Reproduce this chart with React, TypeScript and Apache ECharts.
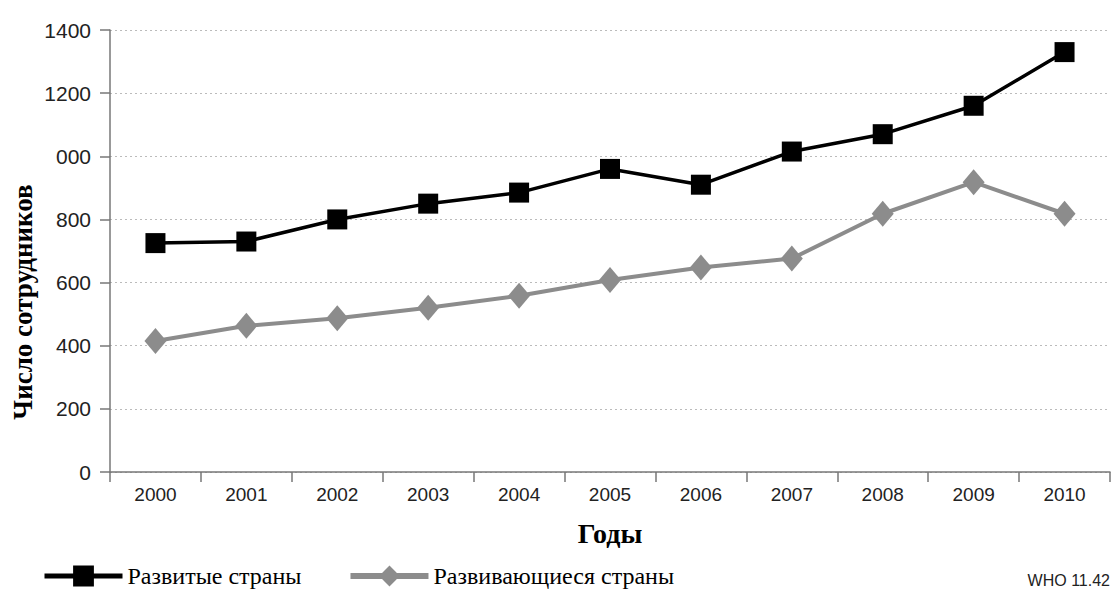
import React, { useEffect, useRef } from "react";
import * as echarts from "echarts";

const years = ["2000", "2001", "2002", "2003", "2004", "2005", "2006", "2007", "2008", "2009", "2010"];
const developed = [725, 730, 800, 850, 885, 960, 910, 1015, 1070, 1160, 1330];
const developing = [415, 463, 487, 520, 558, 608, 648, 676, 818, 918, 818];
const yTicks = [0, 200, 400, 600, 800, 1000, 1200, 1400];
const yTickLabels = ["0", "200", "400", "600", "800", "000", "1200", "1400"];
const seriesNames = ["Развитые страны", "Развивающиеся страны"];

export default function App() {
  const ref = useRef<HTMLDivElement>(null);
  useEffect(() => {
    if (!ref.current) return;
    const chart = echarts.init(ref.current, null, { renderer: "svg" });
    chart.setOption({
      animation: false,
      backgroundColor: "#ffffff",
      grid: { left: 110, right: 1, top: 30, bottom: 118 },
      xAxis: {
        type: "category",
        data: years,
        boundaryGap: true,
        axisLine: { lineStyle: { color: "#777", width: 1.5 } },
        axisTick: { show: true, length: 10, lineStyle: { color: "#777", width: 1.5 } },
        axisLabel: { color: "#222", fontSize: 19, fontFamily: "Liberation Sans, Arial", margin: 13 },
        splitLine: { show: false },
      },
      yAxis: {
        type: "value",
        min: 0,
        max: 1400,
        interval: 200,
        axisLine: { show: true, lineStyle: { color: "#777", width: 1.5 } },
        axisTick: { show: true, length: 10, lineStyle: { color: "#777", width: 1.5 } },
        axisLabel: {
          color: "#222",
          fontSize: 21,
          fontFamily: "Liberation Sans, Arial",
          margin: 19,
          formatter: (v: number) => {
            const i = yTicks.indexOf(v);
            return i >= 0 ? yTickLabels[i] : String(v);
          },
        },
        splitLine: { show: true, lineStyle: { color: "#bbb", type: [2, 3], width: 1 } },
      },
      legend: {
        left: 42,
        top: 564,
        padding: 0,
        itemWidth: 78,
        itemHeight: 26,
        itemGap: 46,
        textStyle: { fontFamily: "Liberation Serif, Times New Roman, serif", fontSize: 24, color: "#000" },
        data: [
          { name: seriesNames[0], lineStyle: { width: 5 } },
          { name: seriesNames[1], lineStyle: { width: 6 } },
        ],
      },
      series: [
        {
          name: seriesNames[0],
          type: "line",
          data: developed,
          symbol: "rect",
          symbolSize: 20,
          lineStyle: { color: "#000", width: 3.5 },
          itemStyle: { color: "#000" },
          z: 3,
        },
        {
          name: seriesNames[1],
          type: "line",
          data: developing,
          symbol: "diamond",
          symbolSize: [22, 26],
          lineStyle: { color: "#8c8c8c", width: 4 },
          itemStyle: { color: "#8c8c8c" },
          z: 2,
        },
      ],
      graphic: [
        {
          type: "text",
          x: 23,
          y: 302,
          rotation: Math.PI / 2,
          style: {
            text: "Число сотрудников",
            font: "bold 27px 'Liberation Serif', 'Times New Roman', serif",
            fill: "#000",
            textAlign: "center",
            textVerticalAlign: "middle",
          },
        },
        {
          type: "text",
          x: 610,
          y: 533,
          style: {
            text: "Годы",
            font: "bold 28px 'Liberation Serif', 'Times New Roman', serif",
            fill: "#000",
            textAlign: "center",
            textVerticalAlign: "middle",
          },
        },
        {
          type: "text",
          x: 1110,
          y: 580,
          style: {
            text: "WHO 11.42",
            font: "16px 'Liberation Sans', Arial, sans-serif",
            fill: "#222",
            textAlign: "right",
            textVerticalAlign: "middle",
          },
        },
      ],
    });
    return () => chart.dispose();
  }, []);
  return <div ref={ref} style={{ width: 1111, height: 590, position: "absolute", left: 0, top: 0 }} />;
}
